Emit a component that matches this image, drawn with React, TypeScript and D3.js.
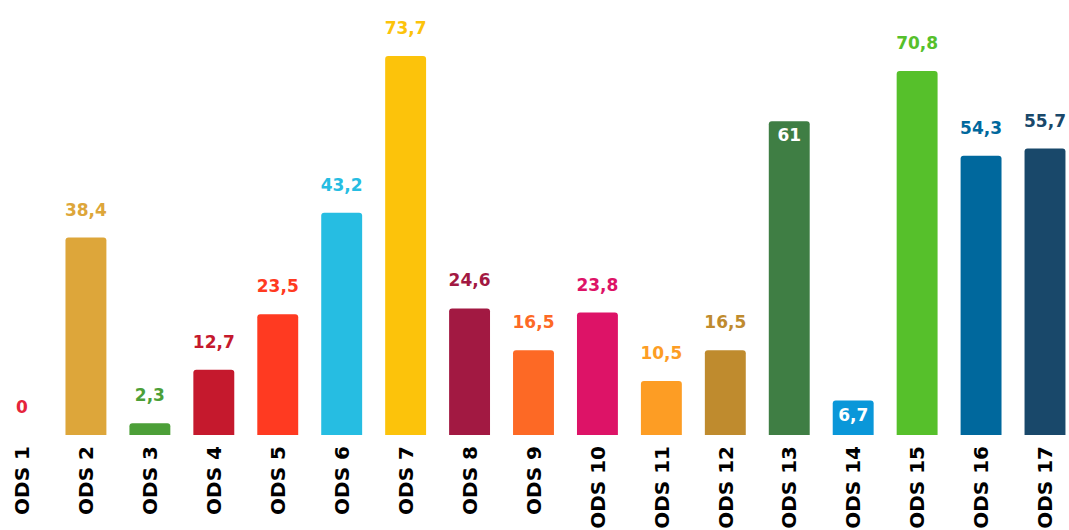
import React from "react";
import * as d3 from "d3";

const categories = ["ODS 1","ODS 2","ODS 3","ODS 4","ODS 5","ODS 6","ODS 7","ODS 8","ODS 9","ODS 10","ODS 11","ODS 12","ODS 13","ODS 14","ODS 15","ODS 16","ODS 17"];
const values = [0, 38.4, 2.3, 12.7, 23.5, 43.2, 73.7, 24.6, 16.5, 23.8, 10.5, 16.5, 61, 6.7, 70.8, 54.3, 55.7];
const colors = ["#E5243B","#DDA63A","#4C9F38","#C5192D","#FF3A21","#26BDE2","#FCC30B","#A21942","#FD6925","#DD1367","#FD9D24","#BF8B2E","#3F7E44","#0A97D9","#56C02B","#00689D","#19486A"];
const insideLabels = ["ODS 13", "ODS 14"];

export default function App() {
  const W = 1069, H = 530;
  const n = categories.length;
  const c0 = 22, c1 = 1045;
  const step = (c1 - c0) / (n - 1);
  const x = d3.scaleBand<string>().domain(categories).range([c0 - step / 2, c1 + step / 2]).paddingInner(0.36).paddingOuter(0.18);
  const y = d3.scaleLinear().domain([0, 73.7]).range([435, 56]);
  const font = "'DejaVu Sans', Verdana, sans-serif";
  const r = 3;
  const barPath = (x0: number, y0: number, w: number, h: number) => {
    const rr = Math.min(r, h / 2, w / 2);
    return `M${x0},${y0 + h}V${y0 + rr}Q${x0},${y0} ${x0 + rr},${y0}H${x0 + w - rr}Q${x0 + w},${y0} ${x0 + w},${y0 + rr}V${y0 + h}Z`;
  };
  return (
    <svg width={W} height={H} style={{ position: "fixed", left: 0, top: 0, background: "#fff" }} fontFamily={font}>
      {categories.map((c, i) => {
        const bx = x(c)!;
        const bw = x.bandwidth();
        const v = values[i];
        const top = y(v);
        const h = y(0) - top;
        const inside = insideLabels.includes(c);
        const cx = bx + bw / 2;
        const label = String(v).replace(".", ",");
        return (
          <g key={c}>
            {h > 0 && <path d={barPath(bx, top, bw, h)} fill={colors[i]} />}
            <text x={cx} y={inside ? top + 20 : top - 22} textAnchor="middle" fontWeight="bold" fontSize={17} fill={inside ? "#fff" : colors[i]}>{label}</text>
            <text transform={`translate(${cx},446) rotate(-90)`} dy="0.36em" textAnchor="end" fontWeight="bold" fontSize={20} fill="#000">{c}</text>
          </g>
        );
      })}
    </svg>
  );
}
